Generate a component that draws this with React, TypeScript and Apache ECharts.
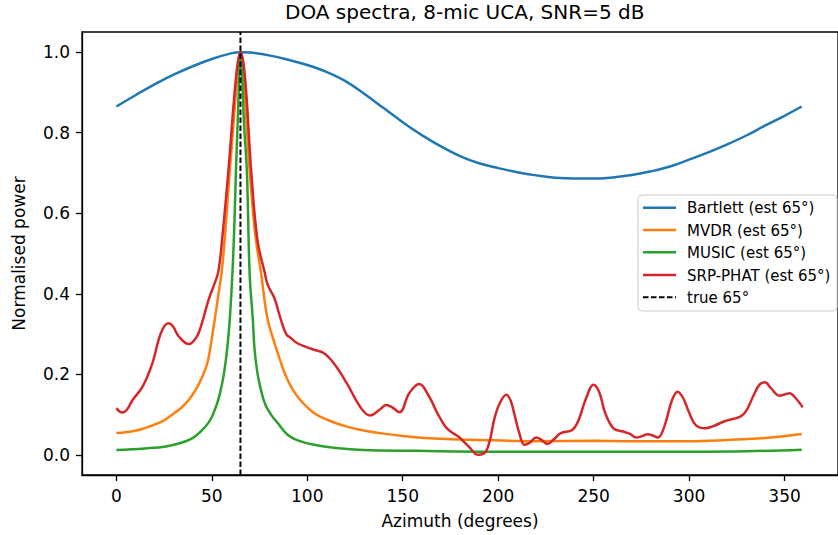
import React, { useEffect, useRef } from "react";
import * as echarts from "echarts";

// ---------- data ----------
const xTicks = [0, 50, 100, 150, 200, 250, 300, 350];
const yTicks = [0, 0.2, 0.4, 0.6, 0.8, 1.0];
const trueAz = 65;

const bartlettAz = [0, 10, 20, 30, 40, 50, 60, 65, 70, 80, 90, 100, 110, 120, 130, 140, 150, 160, 170, 180, 190, 200, 210, 220, 230, 240, 250, 260, 270, 280, 290, 300, 310, 320, 330, 340, 350, 359];
const bartlettVal = [0.865, 0.893, 0.92, 0.944, 0.965, 0.983, 0.997, 1.0, 0.999, 0.992, 0.981, 0.968, 0.951, 0.928, 0.896, 0.861, 0.826, 0.794, 0.766, 0.742, 0.724, 0.712, 0.702, 0.694, 0.688, 0.686, 0.686, 0.689, 0.695, 0.704, 0.716, 0.733, 0.751, 0.771, 0.793, 0.818, 0.842, 0.865];

const mvdrAz = [0, 10, 17, 24, 29, 34, 38, 42, 45, 47.5, 49, 51, 52.6, 54, 55.2, 57, 59.3, 61, 63, 64, 65, 66, 67, 68.5, 69.9, 72, 73.5, 75.8, 77.6, 79.3, 82, 84.5, 88, 91.4, 96, 103.5, 111, 120.7, 130, 138, 150, 164, 180, 198, 220, 250, 270, 300, 320, 340, 359];
const mvdrVal = [0.054, 0.06, 0.07, 0.083, 0.099, 0.117, 0.137, 0.165, 0.194, 0.225, 0.26, 0.32, 0.37, 0.415, 0.455, 0.55, 0.7, 0.8, 0.92, 0.97, 1.0, 0.97, 0.92, 0.8, 0.7, 0.58, 0.52, 0.451, 0.385, 0.335, 0.29, 0.253, 0.205, 0.17, 0.138, 0.104, 0.086, 0.07, 0.06, 0.054, 0.047, 0.041, 0.038, 0.036, 0.034, 0.035, 0.034, 0.034, 0.037, 0.042, 0.052];

const musicAz = [0, 15, 26, 34, 39.7, 44, 48.3, 51, 53.4, 55.3, 56.9, 58.3, 59.5, 60.8, 61.8, 62.6, 63.5, 64.3, 65, 65.8, 66.8, 68.4, 69.8, 71.5, 72.4, 74, 75.8, 78, 81, 84.5, 89.7, 95, 103.5, 115, 129.3, 157, 198, 250, 300, 330, 359];
const musicVal = [0.012, 0.016, 0.021, 0.03, 0.041, 0.057, 0.08, 0.105, 0.137, 0.175, 0.219, 0.275, 0.343, 0.451, 0.57, 0.7, 0.82, 0.93, 1.0, 0.95, 0.83, 0.7, 0.451, 0.335, 0.261, 0.2, 0.16, 0.125, 0.1, 0.079, 0.05, 0.036, 0.025, 0.017, 0.012, 0.01, 0.008, 0.008, 0.008, 0.009, 0.013];

const srpAz = [0, 3.1, 5.5, 8.6, 13.8, 18.9, 23.3, 27.2, 29.5, 32.7, 37.9, 42.2, 44.8, 48.3, 51, 53.4, 55.5, 58.6, 62.9, 65, 67.2, 70.7, 74, 77.6, 79.3, 82.8, 86.2, 89, 91.4, 94.8, 98.3, 103.5, 108.6, 113.8, 120.7, 127.6, 132.8, 137.9, 141.4, 144.5, 148.3, 153.4, 158.6, 163.8, 168, 172.4, 176, 179.3, 184.5, 189.6, 194, 198.3, 201, 204.3, 206.5, 208.6, 211, 213.8, 216.5, 219.9, 222.5, 225.9, 229, 232.8, 238.8, 242, 246, 250, 253, 256, 260.4, 265.5, 269, 272.4, 275, 278.5, 281, 283.7, 287, 291, 294, 297, 300, 303.5, 308.6, 313, 319, 326.8, 330, 334, 337, 339.7, 343, 347.4, 350, 352.6, 356, 359.5];
const srpVal = [0.116, 0.105, 0.112, 0.137, 0.17, 0.228, 0.302, 0.327, 0.32, 0.294, 0.275, 0.294, 0.327, 0.385, 0.42, 0.455, 0.54, 0.7, 0.948, 1.0, 0.948, 0.7, 0.53, 0.455, 0.422, 0.389, 0.335, 0.3, 0.29, 0.277, 0.27, 0.261, 0.253, 0.228, 0.178, 0.12, 0.098, 0.112, 0.124, 0.118, 0.106, 0.153, 0.176, 0.145, 0.105, 0.07, 0.055, 0.045, 0.021, 0.0, 0.012, 0.095, 0.13, 0.149, 0.135, 0.099, 0.055, 0.025, 0.03, 0.043, 0.038, 0.027, 0.038, 0.054, 0.062, 0.085, 0.14, 0.174, 0.155, 0.105, 0.066, 0.058, 0.052, 0.043, 0.046, 0.051, 0.048, 0.043, 0.07, 0.135, 0.157, 0.14, 0.105, 0.074, 0.066, 0.072, 0.084, 0.095, 0.11, 0.15, 0.175, 0.18, 0.165, 0.147, 0.15, 0.153, 0.14, 0.118];

const seriesNames = ["Bartlett (est 65°)", "MVDR (est 65°)", "MUSIC (est 65°)", "SRP-PHAT (est 65°)"];
const trueName = "true 65°";
const colors = ["#1f77b4", "#ff7f0e", "#2ca02c", "#d62728"];

const zip = (a: number[], b: number[]) => a.map((x, i) => [x, b[i]]);

const FONT = '"DejaVu Sans", "Liberation Sans", sans-serif';

export default function App() {
  const ref = useRef<HTMLDivElement>(null);
  useEffect(() => {
    const chart = echarts.init(ref.current!, null, { renderer: "svg" });
    const gridLeft = 82;
    const gridTop = 32;
    const gridWidth = 765.4;
    const gridHeight = 443;

    const dataSets = [
      zip(bartlettAz, bartlettVal),
      zip(mvdrAz, mvdrVal),
      zip(musicAz, musicVal),
      zip(srpAz, srpVal),
    ];

    const legendRows = [207.7, 230, 252.3, 275, 297.3];
    const legendItems: any[] = [
      {
        type: "rect",
        shape: { x: 638, y: 195, width: 199, height: 116, r: 4 },
        style: { fill: "rgba(255,255,255,0.8)", stroke: "#cccccc", lineWidth: 1 },
      },
    ];
    const legendLabels = [...seriesNames, trueName];
    legendLabels.forEach((name, i) => {
      const isTrue = i === 4;
      legendItems.push({
        type: "line",
        shape: { x1: 643, y1: legendRows[i], x2: 676, y2: legendRows[i] },
        style: {
          stroke: isTrue ? "#000" : colors[i],
          lineWidth: isTrue ? 2 : 2.5,
          lineDash: isTrue ? [5.5, 2.5] : null,
        },
      });
      legendItems.push({
        type: "text",
        x: 687,
        y: legendRows[i] + 0.5,
        style: {
          text: name,
          font: `15px ${FONT}`,
          fill: "#000",
          align: "left",
          verticalAlign: "middle",
          textAlign: "left",
          textVerticalAlign: "middle",
        },
      });
    });

    chart.setOption({
      animation: false,
      backgroundColor: "#fff",
      textStyle: { fontFamily: FONT },
      title: {
        text: "DOA spectra, 8-mic UCA, SNR=5 dB",
        left: gridLeft + gridWidth / 2,
        top: 2,
        padding: 0,
        textAlign: "center",
        textStyle: { fontSize: 20, fontWeight: "normal", color: "#000", fontFamily: FONT },
      },
      grid: {
        left: gridLeft,
        top: gridTop,
        width: gridWidth,
        height: gridHeight,
        show: true,
        borderColor: "#000",
        borderWidth: 1.3,
        backgroundColor: "transparent",
      },
      xAxis: {
        type: "value",
        min: -18,
        max: 378,
        name: "Azimuth (degrees)",
        nameLocation: "middle",
        nameGap: 37,
        nameTextStyle: { fontSize: 17, color: "#000", fontFamily: FONT },
        axisLine: { show: true, onZero: false, lineStyle: { color: "#000", width: 1.3 } },
        axisTick: { show: true, length: 6, lineStyle: { color: "#000", width: 1.3 }, customValues: xTicks },
        axisLabel: { fontSize: 17, color: "#000", margin: 12, fontFamily: FONT, customValues: xTicks },
        splitLine: { show: false },
      },
      yAxis: {
        type: "value",
        min: -0.05,
        max: 1.05,
        name: "Normalised power",
        nameLocation: "middle",
        nameGap: 55,
        nameTextStyle: { fontSize: 17, color: "#000", fontFamily: FONT },
        axisLine: { show: true, onZero: false, lineStyle: { color: "#000", width: 1.3 } },
        axisTick: { show: true, length: 6, lineStyle: { color: "#000", width: 1.3 }, customValues: yTicks },
        axisLabel: {
          fontSize: 17,
          color: "#000",
          margin: 12,
          fontFamily: FONT,
          customValues: yTicks,
          formatter: (v: number) => v.toFixed(1),
        },
        splitLine: { show: false },
      },
      series: [
        ...dataSets.map((d, i) => ({
          name: seriesNames[i],
          type: "line",
          data: d,
          showSymbol: false,
          symbol: "none",
          smooth: 0.4,
          lineStyle: { color: colors[i], width: 2.5 },
          itemStyle: { color: colors[i] },
          z: 2 + i,
        })),
        {
          name: trueName,
          type: "line",
          data: [
            [trueAz, -0.05],
            [trueAz, 1.05],
          ],
          showSymbol: false,
          symbol: "none",
          lineStyle: { color: "#000", width: 2, type: [5.5, 2.5] },
          z: 10,
        },
      ],
      graphic: [{ type: "group", children: legendItems, z: 100 }],
    });
    return () => chart.dispose();
  }, []);
  return (
    <div
      ref={ref}
      style={{ position: "fixed", left: 0, top: 0, width: 838, height: 535, background: "#fff" }}
    />
  );
}
